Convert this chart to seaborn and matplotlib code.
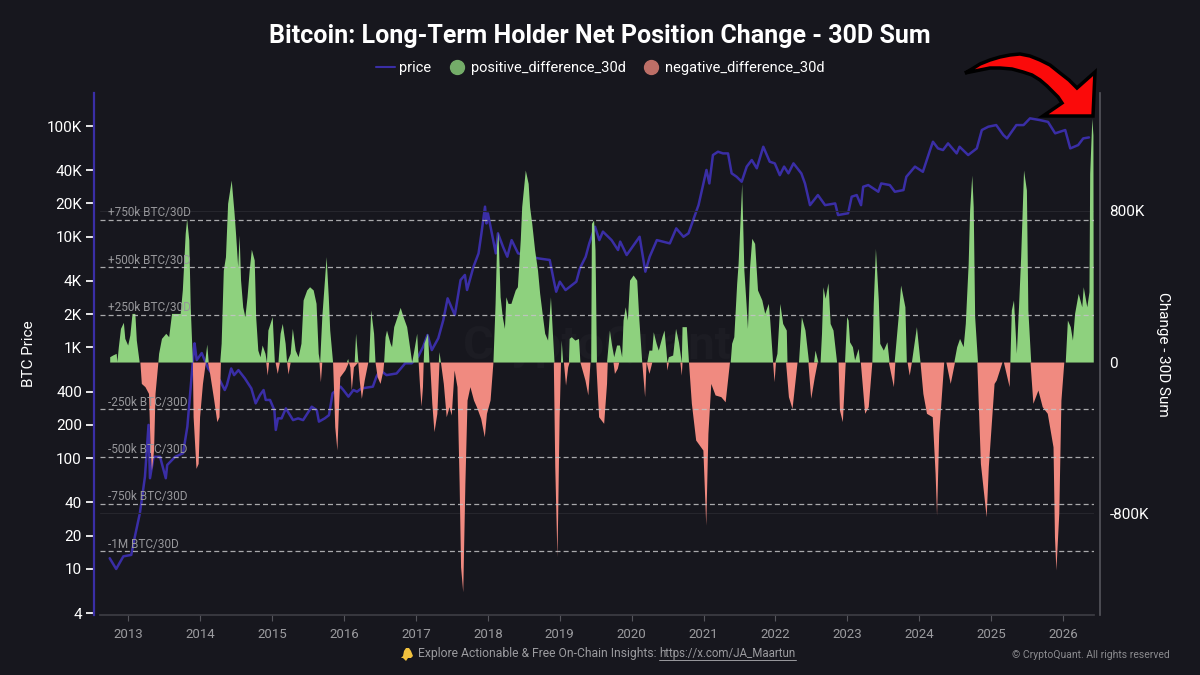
import numpy as np
import pandas as pd
import matplotlib.pyplot as plt
import seaborn as sns
from matplotlib.lines import Line2D
from matplotlib.patches import Polygon
from matplotlib.ticker import FixedLocator, NullLocator
from matplotlib.transforms import ScaledTranslation

# dates are decimal years, differences are thousands of BTC
price_dates = [2012.74, 2012.83, 2012.93, 2013.04, 2013.09, 2013.16, 2013.23, 2013.28, 2013.30, 2013.35, 2013.44, 2013.52,
               2013.54, 2013.65, 2013.76, 2013.82, 2013.87, 2013.91, 2013.92, 2013.95, 2014.02, 2014.06, 2014.11, 2014.16,
               2014.27, 2014.34, 2014.37, 2014.43, 2014.47, 2014.53, 2014.62, 2014.71, 2014.77, 2014.83, 2014.88, 2014.91,
               2014.97, 2015.03, 2015.05, 2015.08, 2015.13, 2015.19, 2015.29, 2015.36, 2015.43, 2015.55, 2015.62, 2015.65,
               2015.73, 2015.79, 2015.84, 2015.95, 2015.99, 2016.06, 2016.13, 2016.18, 2016.24, 2016.40, 2016.45, 2016.50,
               2016.59, 2016.73, 2016.85, 2016.94, 2017.03, 2017.10, 2017.16, 2017.22, 2017.31, 2017.38, 2017.44, 2017.54,
               2017.62, 2017.68, 2017.71, 2017.80, 2017.87, 2017.91, 2017.96, 2017.98, 2018.00, 2018.05, 2018.11, 2018.14,
               2018.21, 2018.27, 2018.33, 2018.42, 2018.70, 2018.86, 2018.92, 2018.95, 2019.00, 2019.08, 2019.23, 2019.28,
               2019.36, 2019.41, 2019.49, 2019.55, 2019.60, 2019.72, 2019.81, 2019.84, 2019.93, 2020.11, 2020.19, 2020.25,
               2020.35, 2020.53, 2020.62, 2020.72, 2020.79, 2020.93, 2021.04, 2021.08, 2021.13, 2021.20, 2021.27, 2021.34,
               2021.39, 2021.46, 2021.53, 2021.60, 2021.67, 2021.74, 2021.83, 2021.92, 2021.99, 2022.06, 2022.12, 2022.18,
               2022.25, 2022.36, 2022.41, 2022.48, 2022.59, 2022.69, 2022.83, 2022.87, 2023.01, 2023.06, 2023.13, 2023.19,
               2023.22, 2023.29, 2023.43, 2023.47, 2023.59, 2023.66, 2023.78, 2023.82, 2023.94, 2024.05, 2024.15, 2024.19,
               2024.26, 2024.33, 2024.40, 2024.52, 2024.56, 2024.68, 2024.80, 2024.87, 2024.96, 2025.07, 2025.17, 2025.22,
               2025.35, 2025.45, 2025.54, 2025.68, 2025.79, 2025.89, 2026.03, 2026.10, 2026.21, 2026.28, 2026.36]
price_values = [12.5, 10, 13, 13.4, 19.6, 32, 68, 200, 66, 103, 103, 66,
                87, 103, 111, 193, 474, 948, 1091, 770, 891, 770, 647, 583,
                508, 413, 458, 647, 563, 625, 526, 427, 313, 372, 413, 336,
                336, 272, 180, 229, 229, 282, 221, 229, 221, 292, 272, 214,
                229, 245, 386, 443, 413, 360, 413, 399, 427, 443, 545, 625,
                563, 583, 720, 720, 826, 1018, 1297, 948, 1211, 1770, 2780, 1963,
                4064, 4518, 3306, 5370, 7080, 10720, 18700, 13200, 16260, 11120, 7080, 10740,
                8130, 6600, 9330, 7080, 6380, 6170, 3930, 3190, 3930, 3300, 3930, 5190,
                6600, 8710, 12330, 9330, 11120, 9330, 7590, 9040, 6840, 10000, 4840, 6600,
                9330, 8710, 11900, 10000, 10740, 19360, 40100, 30300, 54700, 58600, 56600, 56600,
                37400, 34800, 31400, 43000, 49300, 41500, 65000, 47600, 46000, 36000, 43000, 37400,
                46000, 37300, 30300, 19300, 23800, 19300, 20000, 15700, 16300, 23000, 23800, 19300,
                28300, 29300, 25500, 30300, 29300, 25500, 26400, 34800, 43000, 38600, 60700, 72100,
                62800, 60700, 69700, 56600, 65000, 54700, 62800, 92000, 98600, 102000, 82800, 77300,
                102000, 102000, 117300, 113000, 109000, 85900, 92000, 62800, 67300, 77300, 78900]

positive_dates = [2012.74, 2012.78, 2012.83, 2012.84, 2012.86, 2012.89, 2012.93, 2012.95, 2012.99, 2013.02, 2013.05, 2013.09, 2013.11, 2013.15,
                  2013.41, 2013.42, 2013.46, 2013.52, 2013.56, 2013.60, 2013.66, 2013.72, 2013.75, 2013.79, 2013.81, 2013.84, 2013.86, 2013.89,
                  2014.06, 2014.09, 2014.11, 2014.27, 2014.29, 2014.32, 2014.35, 2014.38, 2014.43, 2014.47, 2014.49, 2014.52, 2014.54, 2014.56,
                  2014.59, 2014.62, 2014.65, 2014.68, 2014.71, 2014.75, 2014.77, 2014.80, 2014.83, 2014.86, 2014.90, 2014.92, 2014.94, 2015.00,
                  2015.03, 2015.08, 2015.11, 2015.14, 2015.18, 2015.20, 2015.25, 2015.28, 2015.32, 2015.36, 2015.40, 2015.43, 2015.48, 2015.52,
                  2015.57, 2015.61, 2015.64, 2015.66, 2015.69, 2015.75, 2015.78, 2015.80, 2015.84, 2016.03, 2016.05, 2016.06, 2016.14, 2016.16,
                  2016.19, 2016.20, 2016.34, 2016.37, 2016.41, 2016.43, 2016.55, 2016.57, 2016.59, 2016.64, 2016.66, 2016.69, 2016.78, 2016.82,
                  2016.87, 2016.91, 2016.94, 2016.97, 2017.01, 2017.03, 2017.10, 2017.11, 2017.16, 2017.18, 2017.31, 2017.32, 2017.34,
                  2018.07, 2018.10, 2018.12, 2018.14, 2018.17, 2018.20, 2018.23, 2018.25, 2018.28, 2018.32, 2018.38, 2018.41, 2018.45, 2018.47,
                  2018.52, 2018.56, 2018.58, 2018.61, 2018.65, 2018.69, 2018.72, 2018.76, 2018.79, 2018.83, 2018.87, 2018.90, 2018.92,
                  2019.01, 2019.02, 2019.04, 2019.12, 2019.13, 2019.16, 2019.21, 2019.26, 2019.28, 2019.43, 2019.44, 2019.47, 2019.49, 2019.51,
                  2019.65, 2019.69, 2019.72, 2019.75, 2019.79, 2019.83, 2019.86, 2019.88, 2019.91, 2019.94, 2019.97, 2020.02, 2020.07, 2020.10,
                  2020.14, 2020.21, 2020.24, 2020.28, 2020.30, 2020.34, 2020.37, 2020.42, 2020.45, 2020.49, 2020.51, 2020.57, 2020.61, 2020.65,
                  2020.69, 2020.70, 2020.76, 2020.79, 2021.37, 2021.39, 2021.42, 2021.46, 2021.48, 2021.53, 2021.56, 2021.59, 2021.61, 2021.64,
                  2021.67, 2021.71, 2021.75, 2021.81, 2021.85, 2021.90, 2021.92, 2021.96, 2021.99, 2022.02, 2022.06, 2022.10, 2022.15, 2022.16,
                  2022.32, 2022.36, 2022.41, 2022.46, 2022.53, 2022.55, 2022.59, 2022.62, 2022.64, 2022.66, 2022.69, 2022.73, 2022.76, 2022.80,
                  2022.85, 2022.96, 2022.99, 2023.01, 2023.03, 2023.07, 2023.10, 2023.15, 2023.17, 2023.34, 2023.36, 2023.39, 2023.43, 2023.45,
                  2023.50, 2023.55, 2023.58, 2023.65, 2023.71, 2023.74, 2023.80, 2023.82, 2023.89, 2023.92, 2023.96, 2024.01, 2024.48, 2024.52,
                  2024.56, 2024.61, 2024.64, 2024.68, 2024.70, 2024.73, 2024.75, 2024.77, 2024.81, 2025.26, 2025.28, 2025.31, 2025.33, 2025.35,
                  2025.38, 2025.41, 2025.45, 2025.49, 2025.51, 2025.55, 2026.03, 2026.06, 2026.10, 2026.13, 2026.16, 2026.21, 2026.26, 2026.28,
                  2026.33, 2026.36, 2026.37, 2026.40, 2026.415, 2026.42]
positive_values = [28, 37, 46, 2, 81, 178, 210, 125, 90, 143, 257, 257, 116, 0,
                   0, 46, 125, 152, 134, 257, 257, 257, 381, 680, 759, 645, 292, 0,
                   0, 95, 0, 0, 99, 486, 557, 839, 962, 786, 680, 504, 671, 433,
                   292, 240, 345, 486, 596, 539, 240, 63, 28, 90, 46, 0, 169, 240,
                   0, 0, 152, 204, 99, 0, 46, 178, 63, 28, 99, 328, 381, 398,
                   381, 310, 46, 0, 240, 557, 345, 169, 0, 0, 19, 0, 0, 152,
                   10, 0, 0, 275, 152, 0, 0, 134, 169, 99, 81, 187, 289, 240,
                   187, 81, 0, 63, 152, 0, 0, 99, 152, 0, 0, 55, 0,
                   0, 310, 610, 689, 345, 240, 178, 345, 310, 310, 381, 398, 645, 821,
                   1015, 944, 821, 733, 592, 486, 363, 240, 152, 116, 345, 134, 0,
                   0, 116, 0, 0, 125, 134, 116, 125, 0, 0, 733, 751, 592, 0,
                   0, 169, 90, 28, 90, 90, 28, 222, 292, 222, 433, 460, 433, 222,
                   0, 0, 63, 63, 160, 99, 63, 134, 169, 0, 28, 37, 178, 107,
                   0, 187, 187, 0, 0, 99, 134, 416, 522, 944, 486, 310, 178, 504,
                   654, 627, 381, 328, 257, 310, 222, 0, 0, 46, 310, 204, 169, 0,
                   0, 240, 169, 0, 0, 63, 0, 0, 152, 398, 337, 419, 204, 169,
                   0, 0, 240, 222, 107, 81, 11, 72, 0, 0, 310, 601, 328, 99,
                   63, 107, 0, 0, 257, 407, 292, 0, 0, 81, 187, 0, 0, 81,
                   125, 81, 204, 522, 803, 988, 821, 240, 0, 0, 275, 328, 187, 46,
                   292, 557, 1015, 909, 275, 0, 0, 222, 187, 116, 257, 363, 292, 398,
                   292, 372, 997, 1288, 1200, 0]

negative_dates = [2013.16, 2013.18, 2013.23, 2013.28, 2013.30, 2013.32, 2013.35, 2013.37, 2013.41, 2013.89, 2013.90, 2013.94, 2013.97, 2013.99,
                  2014.03, 2014.07, 2014.10, 2014.13, 2014.18, 2014.23, 2014.26, 2014.27, 2014.28, 2014.91, 2014.93, 2014.95, 2015.04, 2015.07,
                  2015.10, 2015.20, 2015.22, 2015.25, 2015.65, 2015.67, 2015.69, 2015.84, 2015.85, 2015.87, 2015.90, 2015.92, 2015.94, 2016.01,
                  2016.06, 2016.08, 2016.10, 2016.13, 2016.19, 2016.21, 2016.24, 2016.28, 2016.33, 2016.43, 2016.46, 2016.50, 2016.54, 2016.55,
                  2017.03, 2017.05, 2017.07, 2017.09, 2017.10, 2017.19, 2017.22, 2017.25, 2017.29, 2017.32, 2017.34, 2017.38, 2017.42, 2017.46,
                  2017.49, 2017.53, 2017.57, 2017.60, 2017.62, 2017.65, 2017.68, 2017.71, 2017.75, 2017.80, 2017.84, 2017.90, 2017.95, 2017.98,
                  2018.03, 2018.07, 2018.91, 2018.93, 2018.96, 2018.97, 2018.99, 2019.01, 2019.05, 2019.08, 2019.11, 2019.13, 2019.28, 2019.35,
                  2019.39, 2019.42, 2019.50, 2019.54, 2019.61, 2019.65, 2019.66, 2019.74, 2019.76, 2019.80, 2019.82, 2020.14, 2020.18, 2020.20,
                  2020.24, 2020.28, 2020.48, 2020.49, 2020.51, 2020.67, 2020.69, 2020.70, 2020.79, 2020.83, 2020.89, 2020.99, 2021.03, 2021.06,
                  2021.10, 2021.16, 2021.24, 2021.30, 2021.36, 2021.96, 2021.98, 2022.00, 2022.14, 2022.18, 2022.23, 2022.30, 2022.45, 2022.49,
                  2022.54, 2022.58, 2022.87, 2022.89, 2022.93, 2022.97, 2023.18, 2023.24, 2023.29, 2023.34, 2023.57, 2023.64, 2023.66, 2023.83,
                  2023.86, 2023.89, 2024.01, 2024.05, 2024.10, 2024.18, 2024.22, 2024.24, 2024.27, 2024.34, 2024.37, 2024.43, 2024.49, 2024.80,
                  2024.85, 2024.93, 2024.96, 2025.04, 2025.07, 2025.15, 2025.17, 2025.25, 2025.26, 2025.54, 2025.58, 2025.65, 2025.71, 2025.78,
                  2025.86, 2025.88, 2025.90, 2025.94, 2025.97, 2026.01]
negative_values = [0, -113, -130, -166, -430, -571, -465, -166, 0, 0, -289, -562, -536, -289,
                   -113, 0, 0, -60, -183, -315, -289, -148, 0, 0, -69, 0, 0, -60,
                   0, 0, -63, 0, 0, -104, 0, 0, -113, -342, -465, -254, -78, -42,
                   0, -25, -148, -25, 0, -95, -192, -95, 0, 0, -78, -113, -42, 0,
                   0, -130, -233, -130, 0, 0, -218, -368, -271, 0, 0, -113, -289, -236,
                   -280, -42, -130, -641, -1082, -1214, -641, -201, -130, -201, -236, -298, -395, -271,
                   -201, 0, 0, -553, -1029, -818, -300, 0, 0, -122, -25, 0, 0, -95,
                   -174, 0, 0, -289, -324, -113, 0, 0, -60, -33, 0, 0, -183, 0,
                   -60, 0, 0, -42, 0, 0, -69, 0, 0, -218, -412, -465, -862, -377,
                   -113, -174, -183, -210, 0, 0, -104, 0, 0, -183, -245, 0, 0, -192,
                   -78, 0, 0, -254, -315, 0, 0, -271, -236, 0, 0, -130, 0, 0,
                   -69, 0, 0, -166, -271, -289, -589, -809, -377, 0, 0, -113, 0, 0,
                   -536, -818, -553, -113, -95, 0, 0, -130, 0, 0, -218, -148, -236, -271,
                   -448, -923, -1099, -800, -201, 0]

years = list(range(2013, 2027))
price_ticks = [100000, 40000, 20000, 10000, 4000, 2000, 1000, 400, 200, 100, 40, 20, 10, 4]
price_labels = ["100K", "40K", "20K", "10K", "4K", "2K", "1K", "400", "200", "100", "40", "20", "10", "4"]
level_values = [750, 500, 250, -250, -500, -750, -1000]
level_labels = ["+750k BTC/30D", "+500k BTC/30D", "+250k BTC/30D", "-250k BTC/30D",
                "-500k BTC/30D", "-750k BTC/30D", "-1M BTC/30D"]

BG = "#17171e"
BLUE = "#3a2ea6"
GREEN = "#8ed17e"
RED = "#f08a80"

sns.set_theme(style="dark", rc={"axes.facecolor": BG, "figure.facecolor": BG})
plt.rcParams["font.family"] = ["Roboto", "DejaVu Sans"]

fig = plt.figure(figsize=(12, 6.75), dpi=100)
ax = fig.add_axes([100 / 1200, 1 - 615 / 675, 994 / 1200, 522 / 675])
ax.set_facecolor(BG)

# price goes on the lower axes, the areas cover it like in the original
price_df = pd.DataFrame({"date": price_dates, "price": price_values})
sns.lineplot(data=price_df, x="date", y="price", ax=ax, color=BLUE, linewidth=1.8, estimator=None, sort=False, legend=False)
ax.set_yscale("log")
ax.set_xlim(2012.605, 2026.43)
ax.set_ylim(3.84, 198700)
ax.yaxis.set_major_locator(FixedLocator(price_ticks))
ax.yaxis.set_minor_locator(NullLocator())
ax.set_yticklabels(price_labels)
ax.set_xticks(years)
ax.set_xticklabels([str(y) for y in years])
ax.set_xlabel("")
ax.set_ylabel("BTC Price", color="white", fontsize=11)
ax.yaxis.set_label_coords(-0.0644, 0.5)
ax.tick_params(axis="y", colors="white", labelsize=11, left=False, pad=3)
ax.tick_params(axis="x", colors="#9b9b9f", labelsize=9.5, bottom=True, length=4, width=0.8, color="#55555c", pad=5)
ax.grid(False)
ax.spines["top"].set_visible(False)
ax.spines["right"].set_visible(False)
ax.spines["left"].set_position(("outward", 4))
ax.spines["left"].set_color(BLUE)
ax.spines["left"].set_linewidth(1.6)
ax.spines["bottom"].set_color("#3d3d44")

ax2 = ax.twinx()
ax2.patch.set_visible(False)
ax2.fill_between(positive_dates, 0, positive_values, color=GREEN, linewidth=0)
ax2.fill_between(negative_dates, 0, negative_values, color=RED, linewidth=0)
ax2.set_ylim(-1337, 1422)
ax2.set_yticks([800, 0, -800])
ax2.set_yticklabels(["800K", "0", "-800K"])
ax2.tick_params(axis="y", colors="white", labelsize=11, right=False, pad=1)
for lbl in ax2.get_yticklabels():
    lbl.set_transform(lbl.get_transform() + ScaledTranslation(0, 2.5 / 72, fig.dpi_scale_trans))
ax2.set_ylabel("Change - 30D Sum", color="white", fontsize=11, rotation=-90, va="center")
ax2.yaxis.set_label_coords(1.0694, 0.5)
ax2.grid(False)
for side in ["top", "left", "bottom"]:
    ax2.spines[side].set_visible(False)
ax2.spines["right"].set_position(("outward", 4))
ax2.spines["right"].set_color("#55555c")
ax2.spines["right"].set_linewidth(1.2)

for v in [800, -800]:
    ax2.axhline(v, color="#26262d", linewidth=0.8, zorder=0)
for v, label in zip(level_values, level_labels):
    ax2.axhline(v, color="#c4c4c6", linewidth=0.9, dashes=(4, 2.5), alpha=0.85, zorder=3)
    ax2.annotate(label, xy=(2012.605, v), xytext=(6, 0.5), textcoords="offset points", color="#97979b",
                 fontsize=8.5, va="bottom", ha="left", zorder=4)

ax.text(0.5, 0.515, "CryptoQuant", transform=ax.transAxes, color="#1c1c23", fontsize=34, fontweight="bold",
        ha="center", va="center")

fig.text(0.5, 1 - 36 / 675, "Bitcoin: Long-Term Holder Net Position Change - 30D Sum", color="white",
         fontsize=18, fontweight="bold", ha="center", va="center")

handles = [
    Line2D([], [], color=BLUE, linewidth=1.5),
    Line2D([], [], color="#74ad69", marker="o", linestyle="", markersize=10),
    Line2D([], [], color="#bd6f67", marker="o", linestyle="", markersize=10),
]
fig.legend(handles, ["price", "positive_difference_30d", "negative_difference_30d"], loc="center",
           bbox_to_anchor=(0.5, 1 - 68 / 675), ncol=3, frameon=False, labelcolor="white", fontsize=10.5,
           handlelength=1.3, handletextpad=0.3, columnspacing=1.1)

# footer, no installed family has the bell so it is a small shape
bell_x = [401, 403, 404, 406, 408, 409, 411, 413, 411, 408, 406, 403]
bell_y = [658, 656, 651, 648, 648, 648, 651, 656, 658, 658, 661, 658]
bell_xy = np.column_stack([np.array(bell_x) / 1200, 1 - np.array(bell_y) / 675])
fig.add_artist(Polygon(bell_xy, closed=True, transform=fig.transFigure, facecolor="#f2c23e", edgecolor="none"))
fig.text(418 / 1200, 1 - 653 / 675, "Explore Actionable & Free On-Chain Insights:", color="#9b9b9f", fontsize=8.7,
         ha="left", va="center")
fig.text(659 / 1200, 1 - 653 / 675, "https://x.com/JA_Maartun", color="#9b9b9f", fontsize=8.3, ha="left", va="center")
fig.add_artist(Line2D([659 / 1200, 796 / 1200], [1 - 660 / 675, 1 - 660 / 675], color="#9b9b9f", linewidth=0.7))
fig.text(1170 / 1200, 1 - 655 / 675, "\u00a9 CryptoQuant. All rights reserved", color="#8b8b8f", fontsize=7.5,
         ha="right", va="center")

# red arrow added on top of the chart, outline traced in image pixels
arrow_x = [965, 972, 980, 990, 1000, 1010, 1020, 1030, 1040, 1050, 1060, 1069, 1077, 1095, 1093, 1043, 1062, 1058, 1053, 1047, 1040, 1032, 1023, 1012, 1000, 990, 980]
arrow_y = [73, 69, 64, 60, 57, 55, 54, 56, 60, 65, 73, 80, 88, 72, 116, 116, 103, 97, 92, 86, 80, 75, 72, 69, 68, 68, 70]
arrow_xy = np.column_stack([np.array(arrow_x) / 1200, 1 - np.array(arrow_y) / 675])
fig.add_artist(Polygon(arrow_xy, closed=True, transform=fig.transFigure, facecolor="#fb0a0a", edgecolor="black",
                       linewidth=2.5, joinstyle="miter"))

plt.savefig("out.png", dpi=100, facecolor=BG)
